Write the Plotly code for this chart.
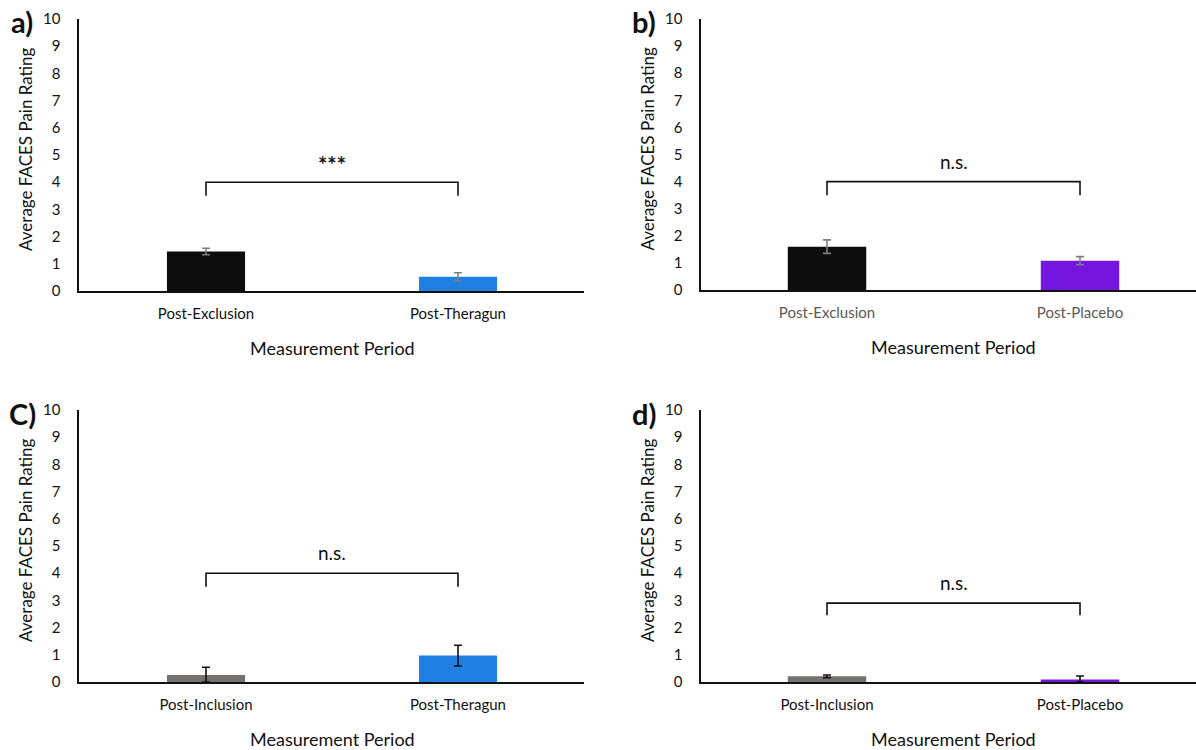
import plotly.graph_objects as go

# ---- data ----
panel_labels = ["a)", "b)", "C)", "d)"]
categories_a = ["Post-Exclusion", "Post-Theragun"]
categories_b = ["Post-Exclusion", "Post-Placebo"]
categories_c = ["Post-Inclusion", "Post-Theragun"]
categories_d = ["Post-Inclusion", "Post-Placebo"]
means_a = [1.45, 0.52]
means_b = [1.60, 1.08]
means_c = [0.26, 0.97]
means_d = [0.21, 0.09]
err_a = [0.12, 0.15]
err_b = [0.25, 0.15]
err_c = [0.28, 0.38]
err_d = [0.05, 0.13]
bracket_top = [4.0, 4.0, 4.0, 2.9]
bracket_leg = [3.5, 3.5, 3.5, 2.45]
sig_labels = ["***", "n.s.", "n.s.", "n.s."]
sig_label_y = [4.65, 4.75, 4.75, 3.65]
y_ticks = list(range(0, 11))
y_title = "Average FACES Pain Rating"
x_title = "Measurement Period"

# ---- styles ----
W, H = 1196, 750
FONT = "Lato, 'Open Sans', sans-serif"
BLACK_BAR = "#0d0d0d"
BLUE = "#1f7fe3"
PURPLE = "#7516e0"
GRAY_BAR = "#767171"

panels = [
    dict(cats=categories_a, means=means_a, err=err_a, colors=[BLACK_BAR, BLUE],
         ecolor="#7f7f7f", tickcolor="#111111"),
    dict(cats=categories_b, means=means_b, err=err_b, colors=[BLACK_BAR, PURPLE],
         ecolor="#7f7f7f", tickcolor="#595959"),
    dict(cats=categories_c, means=means_c, err=err_c, colors=[GRAY_BAR, BLUE],
         ecolor="#111111", tickcolor="#111111"),
    dict(cats=categories_d, means=means_d, err=err_d, colors=[GRAY_BAR, PURPLE],
         ecolor="#111111", tickcolor="#111111"),
]

# pixel geometry: (axis_left, first_center, spacing, y_top, y_bottom)
geom = [
    (79, 206, 252, 19, 291),
    (701, 827, 253, 19, 290),
    (79, 206, 252, 410, 682),
    (701, 827, 253, 410, 682),
]

fig = go.Figure()
layout = dict(
    width=W, height=H,
    margin=dict(l=0, r=0, t=0, b=0, autoexpand=False),
    paper_bgcolor="white", plot_bgcolor="white",
    showlegend=False,
    font=dict(family=FONT, size=15, color="#111111"),
    annotations=[], shapes=[],
)

for i, p in enumerate(panels):
    left, c0, sp, ytop, ybot = geom[i]
    xa = "x" if i == 0 else f"x{i+1}"
    ya = "y" if i == 0 else f"y{i+1}"
    xkey = "xaxis" if i == 0 else f"xaxis{i+1}"
    ykey = "yaxis" if i == 0 else f"yaxis{i+1}"
    right_px = min(W, c0 + 1.5 * sp)
    x0 = (left - c0) / sp
    x1 = (right_px - c0) / sp
    xpos = list(range(len(p["cats"])))
    fig.add_trace(go.Bar(
        x=xpos, y=p["means"], xaxis=xa, yaxis=ya, width=0.31,
        marker=dict(color=p["colors"], line=dict(width=0)),
        error_y=dict(type="data", array=p["err"],
                     arrayminus=[min(e, m) for e, m in zip(p["err"], p["means"])],
                     color=p["ecolor"], thickness=1.6, width=4),
        hoverinfo="skip",
    ))
    layout[xkey] = dict(
        domain=[left / W, right_px / W], range=[x0, x1], anchor=ya,
        tickmode="array", tickvals=xpos, ticktext=p["cats"],
        showline=True, linecolor="#111111", linewidth=1.6,
        showgrid=False, zeroline=False, ticks="", automargin=False,
        tickfont=dict(family=FONT, size=15, color=p["tickcolor"]),
        ticklabelstandoff=8, fixedrange=True,
    )
    layout[ykey] = dict(
        domain=[1 - ybot / H, 1 - ytop / H], range=[0, 10], anchor=xa,
        tickmode="array", tickvals=y_ticks,
        showline=True, linecolor="#111111", linewidth=1.6,
        showgrid=False, zeroline=False, ticks="", automargin=False,
        tickfont=dict(family=FONT, size=15, color="#111111"),
        ticklabelstandoff=14, fixedrange=True,
    )
    # significance bracket
    layout["shapes"].append(dict(
        type="path", xref=xa, yref=ya,
        path=f"M 0,{bracket_leg[i]} L 0,{bracket_top[i]} L 1,{bracket_top[i]} L 1,{bracket_leg[i]}",
        line=dict(color="#111111", width=1.6),
    ))
    is_star = sig_labels[i] == "***"
    layout["annotations"].append(dict(
        xref=xa, yref=ya, x=0.5, y=sig_label_y[i],
        text=f"<b>{sig_labels[i]}</b>" if is_star else sig_labels[i],
        showarrow=False,
        font=dict(family=FONT, size=22 if is_star else 19, color="#111111"),
    ))
    # axis titles
    layout["annotations"].append(dict(
        xref="paper", yref="paper", x=(c0 + 0.5 * sp) / W, y=1 - (ybot + 57) / H,
        text=x_title, showarrow=False, xanchor="center", yanchor="middle",
        font=dict(family=FONT, size=18, color="#111111"),
    ))
    layout["annotations"].append(dict(
        xref="paper", yref="paper", x=(left - 54) / W, y=1 - ((ytop + ybot) / 2 - 6) / H,
        text=y_title, showarrow=False, textangle=-90, xanchor="center", yanchor="middle",
        font=dict(family=FONT, size=17, color="#111111"),
    ))
    # panel label
    layout["annotations"].append(dict(
        xref="paper", yref="paper", x=(left - 57) / W, y=1 - (ytop + 3) / H,
        text=f"<b>{panel_labels[i]}</b>", showarrow=False, xanchor="center", yanchor="middle",
        font=dict(family=FONT, size=29, color="#111111"),
    ))

fig.update_layout(**layout)
fig.write_html(
    "out.html",
    config={"displayModeBar": False, "staticPlot": True},
    post_script="document.body.style.margin='0';document.body.style.overflow='hidden';",
)
